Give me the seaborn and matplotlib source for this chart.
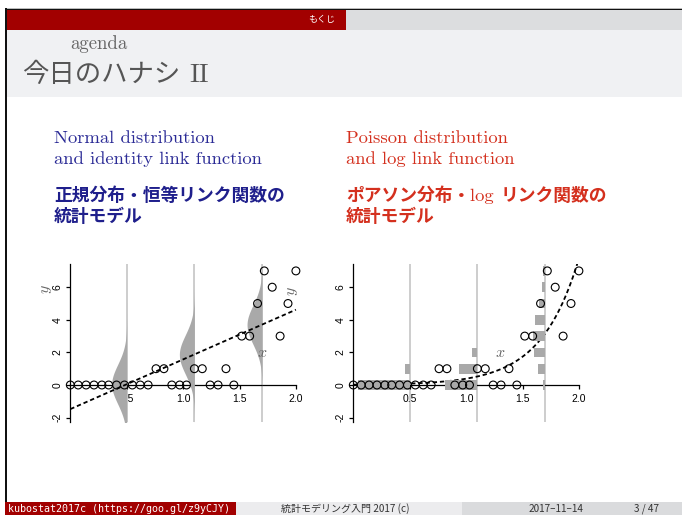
import numpy as np
import pandas as pd
import matplotlib
matplotlib.use("Agg")
import matplotlib.pyplot as plt
import seaborn as sns
from matplotlib.patches import Rectangle

# ---------------- data ----------------
x_obs = [0.00, 0.07, 0.14, 0.21, 0.28, 0.34, 0.41, 0.48, 0.55, 0.62,
         0.69, 0.76, 0.83, 0.90, 0.97, 1.03, 1.10, 1.17, 1.24, 1.31,
         1.38, 1.45, 1.52, 1.59, 1.66, 1.72, 1.79, 1.86, 1.93, 2.00]
y_obs = [0, 0, 0, 0, 0, 0, 0, 0, 0, 0,
         0, 1, 1, 0, 0, 0, 1, 1, 0, 0,
         1, 0, 3, 3, 5, 7, 6, 3, 5, 7]

lm_coef = [-1.48, 3.05]        # identity link: y = a + b x
glm_coef = [-3.95, 3.00]       # log link: y = exp(a + b x)
dist_x = [0.5, 1.1, 1.7]       # where the distributions are drawn
norm_mu = [0.05, 1.87, 3.70]
norm_sd = [1.2, 1.2, 1.2]
pois_p = [[0.91, 0.08],
          [0.57, 0.33, 0.09],
          [0.04, 0.13, 0.20, 0.22, 0.18, 0.11, 0.06, 0.03]]

x_ticks = [0.5, 1.0, 1.5, 2.0]
x_ticklabels = ["0.5", "1.0", "1.5", "2.0"]
y_ticks = [-2, 0, 2, 4, 6]
y_ticklabels = ["-2", "0", "2", "4", "6"]

# ---------------- figure ----------------
plt.rcParams["mathtext.fontset"] = "cm"
W, H = 682, 515
fig = plt.figure(figsize=(W / 100, H / 100), dpi=100)
fig.patch.set_facecolor("white")

bg = fig.add_axes([0, 0, 1, 1], zorder=0)
bg.set_xlim(0, W)
bg.set_ylim(H, 0)
bg.axis("off")


def rect(x0, y0, x1, y1, c):
    bg.add_patch(Rectangle((x0, y0), x1 - x0, y1 - y0, facecolor=c,
                           edgecolor="none", lw=0))


RED = "#A20000"
rect(6, 8, W, 9, "#BBBBBB")
rect(6, 9, W, 10, "#111111")
rect(6, 10, 346, 29.5, RED)
rect(346, 10, W, 29.5, "#DCDDDF")
rect(6, 29.5, W, 97, "#F0F1F3")
rect(5.3, 8, 6.6, 502, "#111111")
rect(5.3, 502, 236, H, RED)
rect(236, 502, 462, H, "#ECECEE")
rect(462, 502, W, H, "#DADBDD")

JP = "Noto Sans CJK JP"
CM = "cmr10"

bg.text(322, 19.5, "もくじ", color="white", fontsize=6.5, family=JP,
        ha="center", va="center")
bg.text(70, 49, "agenda", color="#666666", fontsize=13.5, family=CM,
        ha="left", va="baseline")

renderer = fig.canvas.get_renderer()


def seq_text(x, y, pieces, va="baseline"):
    for s, kw in pieces:
        t = bg.text(x, y, s, ha="left", va=va, **kw)
        bb = t.get_window_extent(renderer)
        x += bb.width
    return x


seq_text(22, 82, [("今日のハナシ", dict(family=JP, fontsize=19, color="#555555")),
                  (" ", dict(family=CM, fontsize=19, color="#555555")),
                  ("II", dict(family=CM, fontsize=19.5, color="#555555"))])

BLUE = "#2B2B96"
BLUEJ = "#1F1F8C"
REDT = "#D4301E"
en_kw = dict(family=CM, fontsize=13.4)
jp_kw = dict(family=JP, fontsize=12.8, weight="bold")

bg.text(54, 143, "Normal distribution", color=BLUE, ha="left", va="baseline", **en_kw)
bg.text(54, 164, "and identity link function", color=BLUE, ha="left", va="baseline", **en_kw)
bg.text(54, 201, "正規分布・恒等リンク関数の", color=BLUEJ, ha="left", va="baseline", **jp_kw)
bg.text(54, 222, "統計モデル", color=BLUEJ, ha="left", va="baseline", **jp_kw)

bg.text(346, 143, "Poisson distribution", color=REDT, ha="left", va="baseline", **en_kw)
bg.text(346, 164, "and log link function", color=REDT, ha="left", va="baseline", **en_kw)
seq_text(346, 201, [("ポアソン分布・", dict(color=REDT, **jp_kw)),
                    ("log ", dict(color=REDT, **en_kw)),
                    ("リンク関数の", dict(color=REDT, **jp_kw))])
bg.text(346, 222, "統計モデル", color=REDT, ha="left", va="baseline", **jp_kw)

# footer
bg.text(8, 508.5, "kubostat2017c (https://goo.gl/z9yCJY)", color="white",
        family="DejaVu Sans Mono", fontsize=7.2, ha="left", va="center")
bg.text(345, 508.5, "統計モデリング入門 2017 (c)", color="#333333", family=JP,
        fontsize=7.2, ha="center", va="center")
bg.text(556, 508.5, "2017–11–14", color="#333333", family=JP,
        fontsize=7.2, ha="center", va="center")
bg.text(646, 508.5, "3 / 47", color="#333333", family=JP,
        fontsize=7.2, ha="center", va="center")

# ---------------- the two plots ----------------
XLIM = (0, 2.1)
YLIM = (-2.3, 7.4)
PXU_X = 112.8
PXU_Y = 16.3
Y0 = 385.0


def make_axes(x0px):
    left = x0px
    width = (XLIM[1] - XLIM[0]) * PXU_X
    top = Y0 - YLIM[1] * PXU_Y
    height = (YLIM[1] - YLIM[0]) * PXU_Y
    ax = fig.add_axes([left / W, 1 - (top + height) / H, width / W, height / H],
                      zorder=2)
    ax.patch.set_alpha(0)
    ax.set_xlim(*XLIM)
    ax.set_ylim(*YLIM)
    for s in ["top", "right"]:
        ax.spines[s].set_visible(False)
    ax.spines["bottom"].set_position(("data", 0))
    ax.spines["bottom"].set_bounds(0, 2.0)
    for s in ["bottom", "left"]:
        ax.spines[s].set_linewidth(0.9)
        ax.spines[s].set_zorder(1.8)
    ax.set_xticks(x_ticks)
    ax.set_xticklabels(x_ticklabels)
    ax.set_yticks(y_ticks)
    ax.set_yticklabels(y_ticklabels)
    ax.tick_params(axis="both", length=3.2, width=0.9, labelsize=7.5,
                   direction="out", pad=3)
    ax.tick_params(axis="y", labelrotation=90, pad=2.5)
    for lab in ax.get_yticklabels():
        lab.set_va("center")
        lab.set_family("Liberation Sans")
    for lab in ax.get_xticklabels():
        lab.set_family("Liberation Sans")
    ax.xaxis.set_zorder(1.5)
    ax.yaxis.set_zorder(1.5)
    return ax


SHADE = "#A9A9A9"
VLINE = "#C0C0C0"
GRAYTXT = "#666666"

# ---- left: normal / identity ----
axL = make_axes(70.3)
yy = np.linspace(-3, 8, 400)
for xc, mu, sd in zip(dist_x, norm_mu, norm_sd):
    axL.axvline(xc, color=VLINE, lw=1.1, zorder=1)
    dens = np.exp(-0.5 * ((yy - mu) / sd) ** 2) / (sd * np.sqrt(2 * np.pi))
    axL.fill_betweenx(yy, xc - 0.40 * dens, xc, color=SHADE, lw=0, zorder=3)

xx = np.linspace(0, 2.0, 100)
line_df = pd.DataFrame({"x": xx, "y": lm_coef[0] + lm_coef[1] * xx})
sns.lineplot(data=line_df, x="x", y="y", ax=axL, color="black", lw=1.3,
             zorder=4)
axL.lines[-1].set_dashes((2.4, 1.6))
obs_df = pd.DataFrame({"x": x_obs, "y": y_obs})
sns.scatterplot(data=obs_df, x="x", y="y", ax=axL, marker="o", s=32,
                facecolors="none", edgecolor="black", linewidth=0.8,
                zorder=5, clip_on=False, legend=False)
axL.text(1.70, 2.0, r"$x$", color=GRAYTXT, fontsize=11.5, ha="center",
         va="center", zorder=6)
axL.text(1.97, 5.75, r"$y$", color=GRAYTXT, fontsize=11.5, ha="center",
         va="center", rotation=90, zorder=6)
axL.text(-0.215, 5.9, r"$y$", color=GRAYTXT, fontsize=11.5, ha="center",
         va="center", rotation=90, zorder=6, clip_on=False)
axL.set_xlabel("")
axL.set_ylabel("")

# ---- right: Poisson / log ----
axR = make_axes(353.3)
for xc, probs in zip(dist_x, pois_p):
    axR.axvline(xc, color=VLINE, lw=1.1, zorder=1)
    ks = np.arange(len(probs))
    w = 0.5 * np.asarray(probs)
    axR.barh(ks, w, left=xc - w, height=0.6, color=SHADE, lw=0, zorder=3)

xx2 = np.linspace(0, 2.05, 200)
curve_df = pd.DataFrame({"x": xx2, "y": np.exp(glm_coef[0] + glm_coef[1] * xx2)})
sns.lineplot(data=curve_df, x="x", y="y", ax=axR, color="black", lw=1.3,
             zorder=2.5)
axR.lines[-1].set_dashes((2.4, 1.6))
sns.scatterplot(data=obs_df, x="x", y="y", ax=axR, marker="o", s=32,
                facecolors="none", edgecolor="black", linewidth=0.8,
                zorder=5, clip_on=False, legend=False)
axR.text(1.30, 2.0, r"$x$", color=GRAYTXT, fontsize=11.5, ha="center",
         va="center", zorder=6)
axR.set_xlabel("")
axR.set_ylabel("")

fig.savefig("out.png", dpi=100)
